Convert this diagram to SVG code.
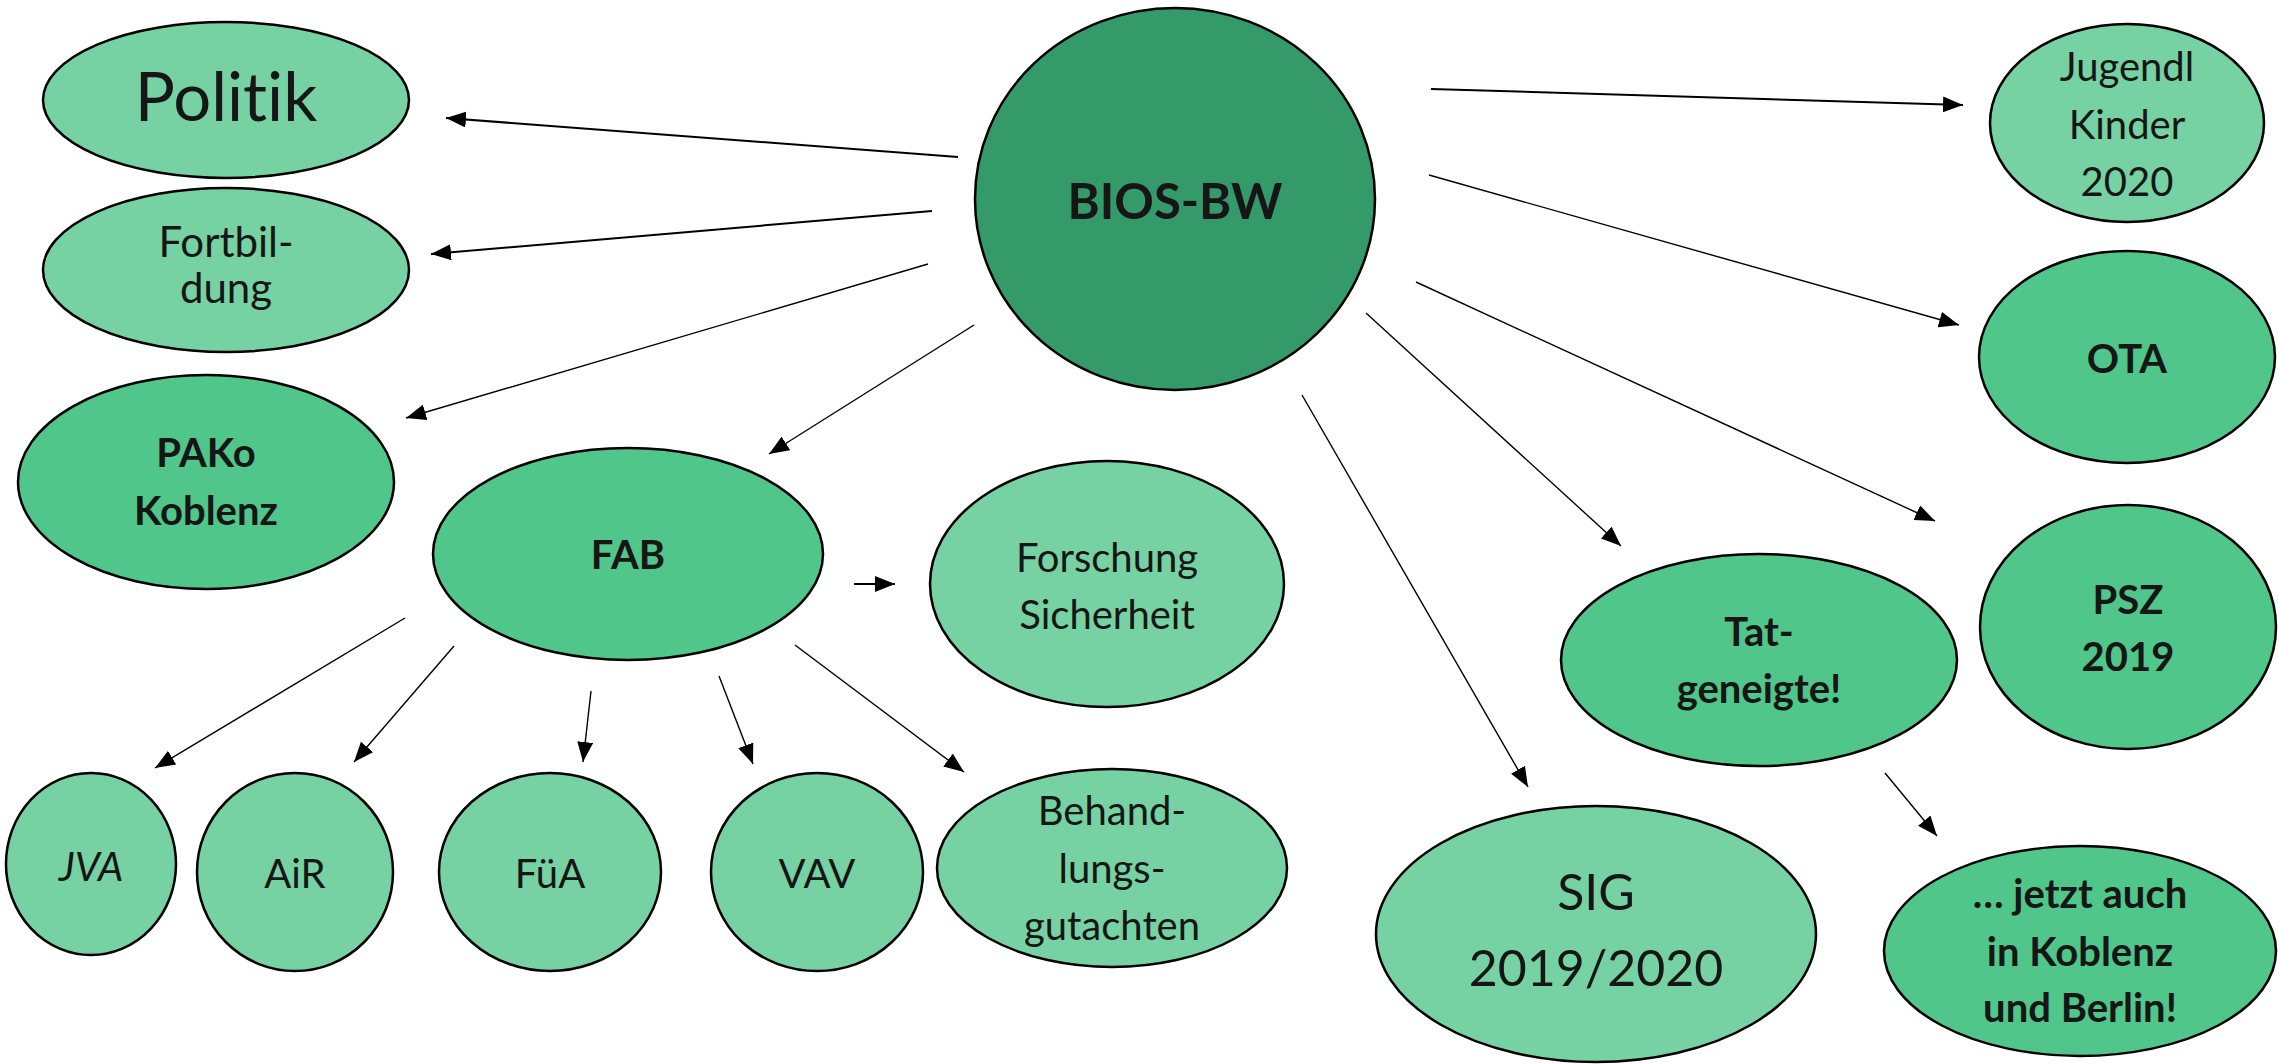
<svg xmlns="http://www.w3.org/2000/svg" width="2278" height="1064" viewBox="0 0 2278 1064">
<style>
.n ellipse{stroke:#000;stroke-width:2.5}
.l{fill:#76D2A3}
.m{fill:#50C68A}
.d{fill:#359A69}
text{font-family:Lato,"Open Sans","Liberation Sans",sans-serif;fill:#161616;text-anchor:middle;font-variant-ligatures:none;font-feature-settings:"liga" 0}
.b{font-weight:bold}
.c line{stroke:#000;stroke-width:1.4;marker-end:url(#ah)}
.c line.t{stroke-width:2}
</style>
<defs>
<marker id="ah" markerUnits="userSpaceOnUse" markerWidth="20" markerHeight="16" refX="20" refY="8" orient="auto">
<path d="M0,0 L20,8 L0,16 Z" fill="#000"/>
</marker>
</defs>
<rect width="2278" height="1064" fill="#fff"/>
<g class="c" id="connectors">
<line class="t" x1="958" y1="157" x2="446" y2="118"/>
<line class="t" x1="932" y1="211" x2="431" y2="254"/>
<line x1="928" y1="264" x2="406" y2="418"/>
<line x1="974" y1="325" x2="769" y2="454"/>
<line class="t" x1="1431" y1="89" x2="1963" y2="105"/>
<line x1="1429" y1="175" x2="1959" y2="325"/>
<line x1="1416" y1="282" x2="1935" y2="521"/>
<line x1="1366" y1="313" x2="1621" y2="546"/>
<line x1="1302" y1="395" x2="1528" y2="787"/>
<line class="t" x1="854" y1="584" x2="895" y2="584"/>
<line x1="405" y1="618" x2="155" y2="768"/>
<line x1="454" y1="646" x2="354" y2="762"/>
<line x1="591" y1="691" x2="583" y2="762"/>
<line x1="719" y1="676" x2="753" y2="764"/>
<line x1="795" y1="645" x2="964" y2="772"/>
<line x1="1885" y1="773" x2="1937" y2="836"/>
</g>
<g class="n" id="politik"><ellipse class="l" cx="226" cy="100" rx="183" ry="78"/><text x="226" y="121" font-size="67">Politik</text></g>
<g class="n" id="fortbildung"><ellipse class="l" cx="226" cy="270" rx="183" ry="82"/><text x="226" y="257" font-size="42">Fortbil-</text><text x="226" y="303" font-size="42">dung</text></g>
<g class="n" id="pako"><ellipse class="m" cx="206" cy="482" rx="188" ry="107"/><text class="b" x="206" y="467" font-size="40">PAKo</text><text class="b" x="206" y="525" font-size="40">Koblenz</text></g>
<g class="n" id="bios"><ellipse class="d" cx="1175" cy="199" rx="200" ry="191"/><text class="b" x="1175" y="219" font-size="49">BIOS-BW</text></g>
<g class="n" id="jugendl"><ellipse class="l" cx="2127" cy="123" rx="137" ry="99"/><text x="2127" y="81" font-size="40">Jugendl</text><text x="2127" y="139" font-size="40">Kinder</text><text x="2127" y="196" font-size="40">2020</text></g>
<g class="n" id="ota"><ellipse class="m" cx="2127" cy="357" rx="148" ry="106"/><text class="b" x="2127" y="373" font-size="40">OTA</text></g>
<g class="n" id="psz"><ellipse class="m" cx="2128" cy="627" rx="148" ry="122"/><text class="b" x="2128" y="614" font-size="40">PSZ</text><text class="b" x="2128" y="671" font-size="40">2019</text></g>
<g class="n" id="fab"><ellipse class="m" cx="628" cy="554" rx="195" ry="106"/><text class="b" x="628" y="569" font-size="40">FAB</text></g>
<g class="n" id="forschung"><ellipse class="l" cx="1107" cy="584" rx="177" ry="123"/><text x="1107" y="572" font-size="40">Forschung</text><text x="1107" y="629" font-size="40">Sicherheit</text></g>
<g class="n" id="tat"><ellipse class="m" cx="1759" cy="660" rx="198" ry="106"/><text class="b" x="1759" y="646" font-size="40">Tat-</text><text class="b" x="1759" y="703" font-size="40">geneigte!</text></g>
<g class="n" id="sig"><ellipse class="l" cx="1596" cy="934" rx="220" ry="128"/><text x="1596" y="910" font-size="50">SIG</text><text x="1596" y="986" font-size="50">2019/2020</text></g>
<g class="n" id="jetzt"><ellipse class="m" cx="2080" cy="951" rx="196" ry="105"/><text class="b" x="2080" y="908" font-size="40">… jetzt auch</text><text class="b" x="2080" y="966" font-size="40">in Koblenz</text><text class="b" x="2080" y="1022" font-size="40">und Berlin!</text></g>
<g class="n" id="jva"><ellipse class="l" cx="91" cy="864" rx="85" ry="91"/><text x="91" y="881" font-size="40" font-style="italic">JVA</text></g>
<g class="n" id="air"><ellipse class="l" cx="295" cy="872" rx="98" ry="99"/><text x="295" y="888" font-size="40">AiR</text></g>
<g class="n" id="fua"><ellipse class="l" cx="550" cy="872" rx="111" ry="99"/><text x="550" y="888" font-size="40">FüA</text></g>
<g class="n" id="vav"><ellipse class="l" cx="817" cy="872" rx="106" ry="99"/><text x="817" y="888" font-size="40">VAV</text></g>
<g class="n" id="behandlung"><ellipse class="l" cx="1112" cy="868" rx="175" ry="99"/><text x="1112" y="825" font-size="40">Behand-</text><text x="1112" y="883" font-size="40">lungs-</text><text x="1112" y="940" font-size="40">gutachten</text></g>
</svg>
